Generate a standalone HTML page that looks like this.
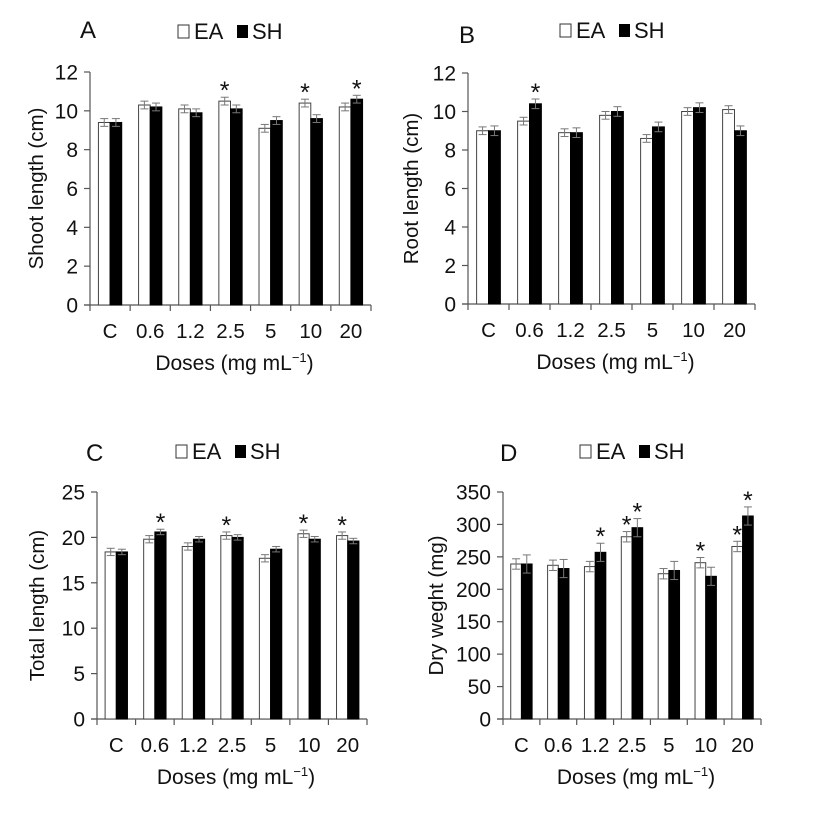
<!DOCTYPE html>
<html><head><meta charset="utf-8"><style>
html,body{margin:0;padding:0;background:#fff}
svg{display:block;font-family:"Liberation Sans",Arial,sans-serif}
</style></head><body>
<svg id="fig" width="820" height="813" viewBox="0 0 820 813" xmlns="http://www.w3.org/2000/svg"></svg>
<script>
const categories = ["C","0.6","1.2","2.5","5","10","20"];
const aEA = [9.4,10.3,10.1,10.5,9.1,10.4,10.2];
const aSH = [9.4,10.2,9.9,10.1,9.5,9.6,10.6];
const aErrEA = [0.2,0.2,0.2,0.2,0.2,0.2,0.2];
const aErrSH = [0.2,0.2,0.2,0.2,0.2,0.2,0.2];
const aStarEA = [0,0,0,1,0,1,0];
const aStarSH = [0,0,0,0,0,0,1];
const bEA = [9.0,9.5,8.9,9.8,8.6,10.0,10.1];
const bSH = [9.0,10.4,8.9,10.0,9.2,10.2,9.0];
const bErrEA = [0.2,0.2,0.2,0.2,0.2,0.2,0.2];
const bErrSH = [0.25,0.25,0.25,0.25,0.25,0.25,0.25];
const bStarEA = [0,0,0,0,0,0,0];
const bStarSH = [0,1,0,0,0,0,0];
const cEA = [18.4,19.8,19.0,20.2,17.7,20.4,20.2];
const cSH = [18.4,20.6,19.8,20.0,18.7,19.8,19.6];
const cErrEA = [0.4,0.4,0.4,0.4,0.4,0.4,0.4];
const cErrSH = [0.3,0.3,0.3,0.3,0.3,0.3,0.3];
const cStarEA = [0,0,0,1,0,1,1];
const cStarSH = [0,1,0,0,0,0,0];
const dEA = [239,237,235,281,224,241,266];
const dSH = [239,232,257,295,229,220,313];
const dErrEA = [8,8,8,8,8,8,8];
const dErrSH = [14,14,14,14,14,14,14];
const dStarEA = [0,0,0,1,0,1,1];
const dStarSH = [0,0,1,1,0,0,1];
const aTicks = [0,2,4,6,8,10,12];
const bTicks = [0,2,4,6,8,10,12];
const cTicks = [0,5,10,15,20,25];
const dTicks = [0,50,100,150,200,250,300,350];

const NS="http://www.w3.org/2000/svg";
const svg=document.getElementById('fig');
function mk(tag,attrs,parent,text){const e=document.createElementNS(NS,tag);for(const k in attrs)e.setAttribute(k,attrs[k]);if(text!==undefined)e.textContent=text;(parent||svg).appendChild(e);return e;}

function panel(letter,box,ticks,ea,sh,eEA,eSH,sEA,sSH,title,lbl,leg){
  const g=mk('g',{});
  
  
  const max=ticks[ticks.length-1];
  const y=v=>box.b-(v/max)*(box.b-box.t);
  const gw=(box.r-box.l)/categories.length;
  const bw=gw*0.29;
  const t=mk('text',{x:lbl[0],y:lbl[1],'font-size':24,fill:'#111'},g,letter);
  
  
  const lg=mk('g',{},g);
  
  
  mk('rect',{x:leg[0],y:leg[1]-14,width:11,height:13,fill:'#fff',stroke:'#333','stroke-width':1},lg);
  mk('text',{x:leg[0]+16,y:leg[1],'font-size':22,fill:'#111'},lg,'EA');
  mk('rect',{x:leg[0]+59,y:leg[1]-14,width:11,height:13,fill:'#000'},lg);
  mk('text',{x:leg[0]+74,y:leg[1],'font-size':22,fill:'#111'},lg,'SH');
  const ax=mk('line',{x1:box.l,y1:box.t,x2:box.l,y2:box.b,stroke:'#555','stroke-width':1.2},g);
  
  
  const xa=mk('line',{x1:box.l-6,y1:box.b,x2:box.r,y2:box.b,stroke:'#555','stroke-width':1.2},g);
  
  
  ticks.forEach(v=>{
    mk('line',{x1:box.l-6,y1:y(v),x2:box.l,y2:y(v),stroke:'#555','stroke-width':1.2},g);
    const tl=mk('text',{x:box.l-12,y:y(v)+7.5,'font-size':21,'text-anchor':'end',fill:'#111'},g,String(v));
    
    
  });
  for(let i=0;i<=categories.length;i++){
    mk('line',{x1:box.l+i*gw,y1:box.b,x2:box.l+i*gw,y2:box.b+6,stroke:'#555','stroke-width':1.2},g);
  }
  const yt=mk('text',{transform:`translate(${title[1]},${(box.t+box.b)/2}) rotate(-90)`,'font-size':20.5,'text-anchor':'middle',fill:'#111'},g,title[0]);
  
  
  const xt=mk('text',{x:(box.l+box.r)/2+4,y:box.b+65,'font-size':21,'text-anchor':'middle',fill:'#111'},g,'Doses (mg mL');
  mk('tspan',{'font-size':13,dy:-8},xt,'\u22121');
  mk('tspan',{dy:8},xt,')');
  
  
  categories.forEach((c,i)=>{
    const cx=box.l+i*gw+gw/2;
    const cl=mk('text',{x:cx,y:box.b+33,'font-size':20.5,'text-anchor':'middle',fill:'#111'},g,c);
    
    
    [[ea,eEA,sEA,'#fff',cx-bw,'ea'],[sh,eSH,sSH,'#000',cx,'sh']].forEach(([vals,errs,stars,fill,x0,nm])=>{
      const v=vals[i];
      const r=mk('rect',{x:x0,y:y(v),width:bw,height:box.b-y(v),fill:fill,stroke:fill==='#fff'?'#444':'#000','stroke-width':1},g);
      
      
      const ex=x0+bw/2, e=errs[i];
      mk('line',{x1:ex,y1:y(v+e),x2:ex,y2:y(v-e),stroke:'#777','stroke-width':1},g);
      mk('line',{x1:ex-4,y1:y(v+e),x2:ex+4,y2:y(v+e),stroke:'#777','stroke-width':1},g);
      mk('line',{x1:ex-4,y1:y(v-e),x2:ex+4,y2:y(v-e),stroke:'#777','stroke-width':1},g);
      if(stars[i]){
        const s=mk('text',{x:ex,y:y(v+e)+2,'font-size':25,'text-anchor':'middle',fill:'#111'},g,'*');
        
        
      }
    });
  });
}
panel('A',{l:90,r:371,t:72,b:305},aTicks,aEA,aSH,aErrEA,aErrSH,aStarEA,aStarSH,['Shoot length (cm)',43],[80,38],[178,39]);
panel('B',{l:468,r:755,t:73,b:304},bTicks,bEA,bSH,bErrEA,bErrSH,bStarEA,bStarSH,['Root length (cm)',418],[459,43],[560,38]);
panel('C',{l:97,r:367,t:492,b:719},cTicks,cEA,cSH,cErrEA,cErrSH,cStarEA,cStarSH,['Total length (cm)',44],[86,461],[176,459]);
panel('D',{l:503,r:761,t:492,b:719},dTicks,dEA,dSH,dErrEA,dErrSH,dStarEA,dStarSH,['Dry weght (mg)',443],[500,461],[580,459]);
</script>
</body></html>
